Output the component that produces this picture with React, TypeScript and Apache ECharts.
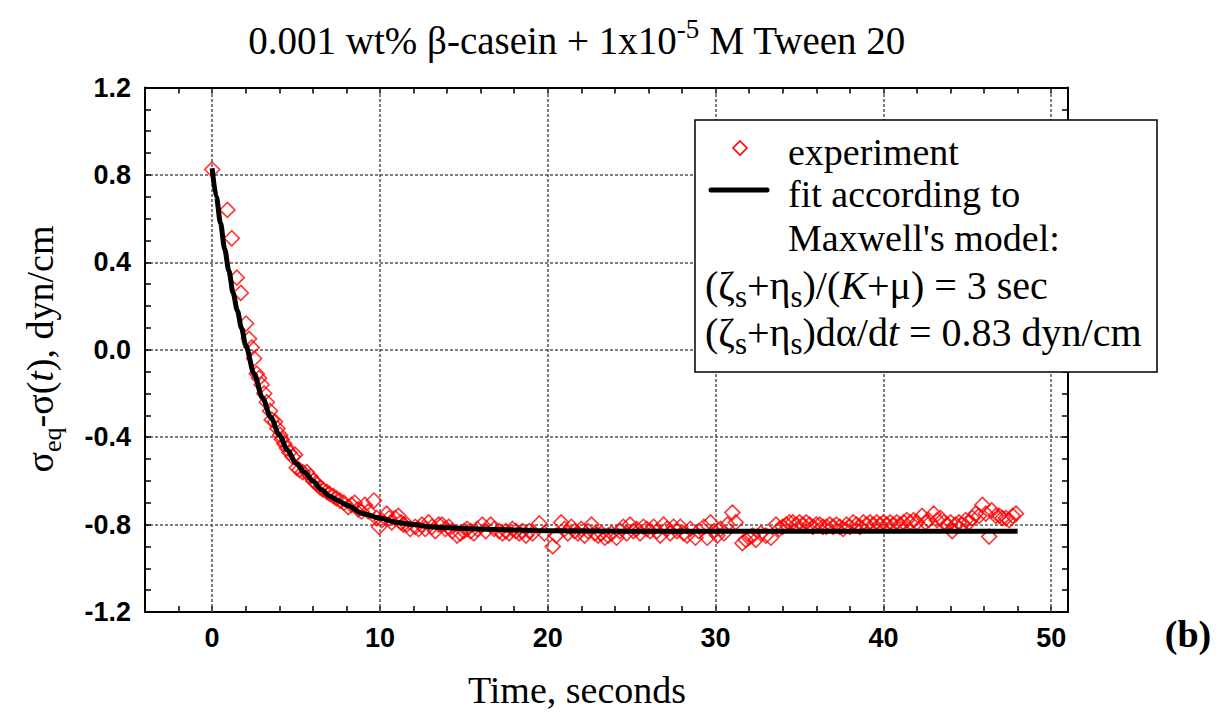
import React, { useEffect, useRef } from "react";
import * as echarts from "echarts";

const xTicks = [0, 10, 20, 30, 40, 50];
const yTicks = [-1.2, -0.8, -0.4, 0, 0.4, 0.8, 1.2];

const expTime = [
  0, 0.91, 1.17, 1.47, 1.71, 2.02, 2.2, 2.36, 2.5, 2.66, 2.8, 2.95, 3.1, 3.26, 3.45, 3.55, 3.75, 3.89, 4.05, 4.15,
  4.3, 4.45, 4.6, 4.8, 4.94, 5.04, 5.2, 5.4, 5.64, 5.85, 6.03, 6.2, 6.43, 6.6, 6.83, 7.0, 7.22, 7.4, 7.62, 7.85,
  8.11, 8.3, 8.5, 8.7, 8.9, 9.1, 9.3, 9.64, 9.8, 9.95, 10.1, 10.4, 10.55, 10.7, 10.9, 11.1, 11.25, 11.4, 11.6, 11.8,
  12.1, 12.3, 12.5, 12.7, 12.9, 13.1, 13.3, 13.5, 13.7, 13.9, 14.1, 14.3, 14.6, 14.8, 15.0, 15.2, 15.4, 15.6, 15.8, 16.1,
  16.3, 16.6, 16.8, 17.1, 17.3, 17.5, 17.7, 17.9, 18.1, 18.3, 18.5, 18.7, 18.9, 19.1, 19.5, 19.8, 20.3, 20.5, 20.8, 21.0,
  21.2, 21.4, 21.6, 21.8, 22.0, 22.2, 22.4, 22.6, 22.8, 23.0, 23.2, 23.4, 23.6, 23.8, 24.1, 24.3, 24.5, 24.7, 24.9, 25.1,
  25.3, 25.5, 25.7, 25.9, 26.1, 26.3, 26.5, 26.7, 26.9, 27.1, 27.3, 27.5, 27.7, 27.9, 28.1, 28.3, 28.5, 28.8, 29.0, 29.3,
  29.5, 29.7, 29.9, 30.1, 30.3, 30.5, 30.7, 31.0, 31.2, 31.6, 31.8, 32.0, 32.2, 32.4, 32.7, 33.0, 33.3, 33.6, 33.8, 34.0,
  34.2, 34.4, 34.6, 34.8, 35.0, 35.2, 35.4, 35.6, 35.8, 36.0, 36.2, 36.4, 36.6, 36.8, 37.0, 37.2, 37.4, 37.6, 37.8, 38.0,
  38.2, 38.4, 38.6, 38.8, 39.0, 39.2, 39.4, 39.6, 39.8, 40.0, 40.2, 40.4, 40.6, 40.8, 41.0, 41.2, 41.4, 41.6, 41.8, 42.0,
  42.3, 42.5, 42.7, 43.0, 43.2, 43.4, 43.6, 43.8, 44.0, 44.1, 44.3, 44.5, 44.7, 44.9, 45.1, 45.3, 45.5, 45.7, 45.9, 46.1,
  46.3, 46.45, 46.7, 46.9, 47.1, 47.3, 47.5, 47.7, 47.9,
];
const expSigma = [
  0.825, 0.64, 0.51, 0.33, 0.26, 0.12, 0.05, 0.01, -0.04, -0.11, -0.13, -0.16, -0.2, -0.24, -0.28, -0.32, -0.33, -0.36, -0.39, -0.41,
  -0.43, -0.45, -0.47, -0.49, -0.48, -0.54, -0.55, -0.56, -0.56, -0.58, -0.6, -0.61, -0.63, -0.64, -0.65, -0.66, -0.67, -0.68, -0.69, -0.7,
  -0.72, -0.71, -0.7, -0.73, -0.74, -0.71, -0.74, -0.69, -0.77, -0.81, -0.78, -0.75, -0.77, -0.79, -0.77, -0.76, -0.79, -0.8, -0.8, -0.82,
  -0.81, -0.82, -0.8, -0.82, -0.79, -0.81, -0.83, -0.8, -0.8, -0.82, -0.81, -0.83, -0.85, -0.84, -0.83, -0.82, -0.83, -0.84, -0.82, -0.8,
  -0.83, -0.8, -0.82, -0.83, -0.84, -0.83, -0.84, -0.82, -0.83, -0.84, -0.83, -0.85, -0.83, -0.84, -0.795, -0.84, -0.9, -0.85, -0.79, -0.82,
  -0.84, -0.81, -0.83, -0.84, -0.82, -0.85, -0.83, -0.8, -0.84, -0.85, -0.84, -0.86, -0.85, -0.84, -0.86, -0.83, -0.81, -0.84, -0.8, -0.83,
  -0.82, -0.84, -0.81, -0.82, -0.83, -0.81, -0.83, -0.85, -0.8, -0.82, -0.84, -0.81, -0.83, -0.81, -0.84, -0.85, -0.82, -0.86, -0.83, -0.81,
  -0.86, -0.79, -0.83, -0.85, -0.82, -0.84, -0.8, -0.745, -0.79, -0.885, -0.87, -0.86, -0.85, -0.87, -0.84, -0.85, -0.86, -0.8, -0.82, -0.81,
  -0.8, -0.79, -0.79, -0.8, -0.79, -0.8, -0.79, -0.8, -0.81, -0.8, -0.8, -0.81, -0.81, -0.8, -0.81, -0.8, -0.81, -0.82, -0.8, -0.81,
  -0.79, -0.8, -0.81, -0.79, -0.8, -0.79, -0.8, -0.79, -0.8, -0.79, -0.8, -0.79, -0.8, -0.79, -0.8, -0.79, -0.78, -0.79, -0.78, -0.79,
  -0.76, -0.79, -0.78, -0.75, -0.78, -0.77, -0.79, -0.8, -0.79, -0.83, -0.8, -0.79, -0.8, -0.78, -0.79, -0.77, -0.75, -0.76, -0.71, -0.75,
  -0.855, -0.735, -0.76, -0.76, -0.77, -0.77, -0.78, -0.76, -0.75,
];

const fitTime = [0, 0.25, 0.5, 0.75, 1, 1.25, 1.5, 1.75, 2, 2.5, 3, 3.5, 4, 4.5, 5, 5.5, 6, 6.5, 7, 7.5, 8, 9, 10, 11, 12, 13, 14, 16, 18, 20, 25, 30, 40, 48];
const fitSigma = [0.83, 0.7, 0.58, 0.46, 0.36, 0.26, 0.18, 0.1, 0.02, -0.11, -0.22, -0.31, -0.39, -0.46, -0.52, -0.56, -0.6, -0.64, -0.67, -0.69, -0.71, -0.75, -0.77, -0.79, -0.8, -0.81, -0.815, -0.82, -0.825, -0.828, -0.83, -0.83, -0.83, -0.83];

const SERIF = "'Liberation Serif', 'Times New Roman', serif";
const SANS = "'Liberation Sans', Arial, sans-serif";
const FS = 38;
const SUB = 26;

const gridStyle = { type: [3, 2] as any, color: "#555", width: 1.5 };
const spine = { show: true, onZero: false, lineStyle: { color: "#000", width: 2 } };
const tick = { show: true, inside: true, length: 6, lineStyle: { color: "#000", width: 1.5 } };

function richSet(fs: number, sub: number, lh: number) {
  return {
    a: { font: `${fs}px ${SERIF}`, fontSize: fs, fontFamily: SERIF, lineHeight: lh, fill: "#000", color: "#000" },
    i: { font: `italic ${fs}px ${SERIF}`, fontSize: fs, fontFamily: SERIF, fontStyle: "italic", lineHeight: lh, fill: "#000", color: "#000" },
    s: { font: `${sub}px ${SERIF}`, fontSize: sub, fontFamily: SERIF, lineHeight: sub, verticalAlign: "bottom", fill: "#000", color: "#000" },
    p: { font: `${sub}px ${SERIF}`, fontSize: sub, fontFamily: SERIF, lineHeight: sub, verticalAlign: "top", fill: "#000", color: "#000" },
  };
}
const richBase = richSet(FS, SUB, 50);
const richTitle = richSet(39, 27, 50);
const richLegend = richSet(40, 31, 54);

function txt(x: number, y: number, text: string, align: string, extra: any = {}, rich: any = richBase) {
  return {
    type: "text",
    x,
    y,
    z: 110,
    silent: true,
    ...extra,
    style: {
      text,
      rich,
      fill: "#000",
      font: `${FS}px ${SERIF}`,
      align,
      verticalAlign: "middle",
      textAlign: align,
      textVerticalAlign: "middle",
    },
  };
}

export default function App() {
  const ref = useRef<HTMLDivElement>(null);
  useEffect(() => {
    if (!ref.current) return;
    const chart = echarts.init(ref.current, undefined, { renderer: "svg" });
    const expData = expTime.map((t, i) => [t, expSigma[i]]);
    const fitData = fitTime.map((t, i) => [t, fitSigma[i]]);
    const isYTick = (v: number) => yTicks.some((t) => Math.abs(t - v) < 1e-6);
    chart.setOption({
      animation: false,
      backgroundColor: "#fff",
      grid: { left: 145, top: 87.5, width: 923, height: 524.5, show: false },
      xAxis: [
        {
          type: "value",
          min: -4,
          max: 51,
          interval: 2,
          position: "bottom",
          axisLine: spine,
          axisTick: tick,
          axisLabel: {
            formatter: (v: number) => (xTicks.some((t) => Math.abs(t - v) < 1e-6) ? String(v) : ""),
            fontSize: 27,
            fontWeight: "bold",
            fontFamily: SANS,
            color: "#000",
            margin: 12,
          },
          splitLine: { show: false },
        },
        {
          type: "value",
          min: -4,
          max: 51,
          interval: 2,
          position: "top",
          axisLine: spine,
          axisTick: tick,
          axisLabel: { show: false },
          splitLine: { show: false },
        },
      ],
      yAxis: [
        {
          type: "value",
          min: -1.2,
          max: 1.2,
          interval: 0.4,
          position: "left",
          axisLine: spine,
          axisTick: tick,
          minorTick: { show: true, splitNumber: 4, length: 6, lineStyle: { color: "#000", width: 1.5 } },
          axisLabel: {
            formatter: (v: number) => (isYTick(v) ? v.toFixed(1) : ""),
            fontSize: 27,
            fontWeight: "bold",
            fontFamily: SANS,
            color: "#000",
            margin: 14,
          },
          splitLine: { show: true, lineStyle: gridStyle },
        },
        {
          type: "value",
          min: -1.2,
          max: 1.2,
          interval: 0.4,
          position: "right",
          axisLine: spine,
          axisTick: tick,
          minorTick: { show: true, splitNumber: 4, length: 6, lineStyle: { color: "#000", width: 1.5 } },
          axisLabel: { show: false },
          splitLine: { show: false },
        },
      ],
      series: [
        {
          type: "scatter",
          name: "experiment",
          xAxisIndex: 0,
          yAxisIndex: 0,
          data: expData,
          symbol: "diamond",
          symbolSize: 15,
          itemStyle: { color: "rgba(0,0,0,0)", borderColor: "#ff0000", borderWidth: 1.6 },
          markLine: {
            silent: true,
            symbol: ["none", "none"],
            label: { show: false },
            lineStyle: gridStyle,
            data: xTicks.map((v) => ({ xAxis: v })),
            z: 1,
          },
        },
        {
          type: "line",
          name: "fit",
          xAxisIndex: 0,
          yAxisIndex: 0,
          data: fitData,
          showSymbol: false,
          smooth: 0.3,
          smoothMonotone: "x",
          lineStyle: { color: "#000", width: 5 },
          z: 5,
        },
      ],
      graphic: [
        txt(577, 40, "{a|0.001 wt% β-casein + 1x10}{p|-5}{a| M Tween 20}", "center", {}, richTitle),
        txt(577, 690, "{a|Time, seconds}", "center"),
        txt(40, 349, "{a|σ}{s|eq}{a|-σ(}{i|t}{a|), dyn/cm}", "center", { rotation: Math.PI / 2 }),
        {
          type: "text",
          x: 1188,
          y: 634,
          z: 110,
          style: {
            text: "(b)",
            font: `bold 38px ${SERIF}`,
            fill: "#000",
            align: "center",
            verticalAlign: "middle",
            textAlign: "center",
            textVerticalAlign: "middle",
          },
        },
        {
          type: "rect",
          z: 100,
          shape: { x: 695, y: 120, width: 462, height: 252 },
          style: { fill: "#fff", stroke: "#000", lineWidth: 1.5 },
        },
        {
          type: "polygon",
          z: 110,
          shape: { points: [[740, 141], [747, 148], [740, 155], [733, 148]] },
          style: { fill: "none", stroke: "#ff0000", lineWidth: 1.6 },
        },
        {
          type: "line",
          z: 110,
          shape: { x1: 711, y1: 190, x2: 767, y2: 190 },
          style: { stroke: "#000", lineWidth: 5, lineCap: "round" },
        },
        txt(788, 152, "{a|experiment}", "left"),
        txt(788, 194, "{a|fit according to}", "left"),
        txt(788, 238, "{a|Maxwell's model:}", "left"),
        txt(705, 285, "{a|(ζ}{s|s}{a|+η}{s|s}{a|)/(}{i|K}{a|+μ) = 3 sec}", "left", {}, richLegend),
        txt(705, 332, "{a|(ζ}{s|s}{a|+η}{s|s}{a|)dα/d}{i|t}{a| = 0.83 dyn/cm}", "left", {}, richLegend),
      ],
    });
    return () => chart.dispose();
  }, []);
  return <div ref={ref} style={{ position: "absolute", left: 0, top: 0, width: 1228, height: 717 }} />;
}
